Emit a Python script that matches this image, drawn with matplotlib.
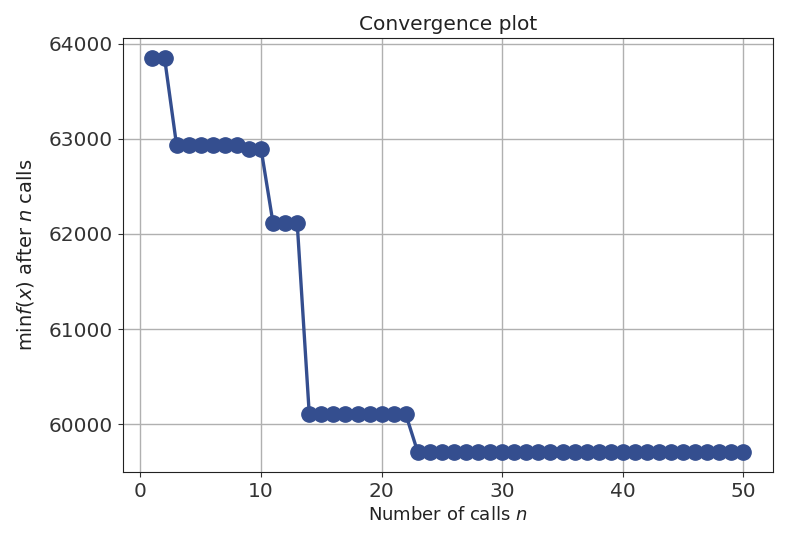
import numpy as np
import matplotlib
matplotlib.use('Agg')
import matplotlib.pyplot as plt

# number of calls and best objective found so far
n_calls = list(range(1, 51))
min_vals = ([63850] * 2 + [62930] * 6 + [62895] * 2 + [62110] * 3
            + [60105] * 9 + [59705] * 28)

fig = plt.figure(figsize=(7.88, 5.37), dpi=100)
ax = fig.add_axes([0.156, 0.121, 0.825, 0.808])

ax.plot(n_calls, min_vals, color='#344e8f', marker='o', markersize=11,
        lw=2.4)

ax.set_title('Convergence plot', fontsize=14.5, color='#222222')
ax.set_xlabel('Number of calls $n$', fontsize=13, color='#222222')
ax.set_ylabel(r'$\min f(x)$ after $n$ calls', fontsize=14, labelpad=9,
              color='#222222')
ax.set_xticks([0, 10, 20, 30, 40, 50])
ax.set_yticks([60000, 61000, 62000, 63000, 64000])
ax.tick_params(labelsize=14.5, colors='#333333')
ax.grid(True, color='#b0b0b0', lw=1)
ax.set_axisbelow(True)
for s in ax.spines.values():
    s.set_color('#222222')

fig.savefig('out.png', dpi=100)
